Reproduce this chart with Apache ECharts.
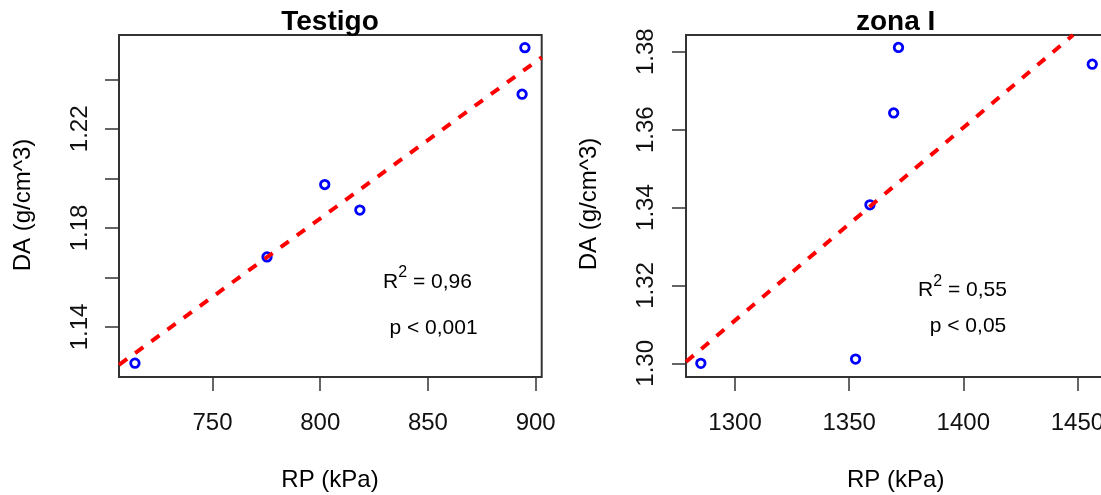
<!DOCTYPE html>
<html><head><meta charset="utf-8">
<script src="https://cdn.jsdelivr.net/npm/echarts@6/dist/echarts.min.js"></script>
<style>html,body{margin:0;padding:0;background:#fff}#c{width:1101px;height:495px}</style>
</head><body><div id="c"></div>
<script>
// ---- data ----
const testigoRP = [714.0, 775.3, 802.1, 818.4, 893.7, 895.0];
const testigoDA = [1.1254, 1.1683, 1.1975, 1.1872, 1.2340, 1.2528];
const zonaRP = [1285.0, 1352.8, 1359.1, 1369.5, 1371.6, 1456.5];
const zonaDA = [1.3000, 1.3011, 1.3407, 1.3643, 1.3811, 1.3768];
// fitted regression lines (endpoints read at the plot box edges)
const testigoFitRP = [706.6, 902.8];
const testigoFitDA = [1.1247, 1.2489];
const zonaFitRP = [1278.5, 1448.1];
const zonaFitDA = [1.3004, 1.3843];
// ticks / labels
const testigoXTicks = [750, 800, 850, 900];
const testigoYTicks = [1.14, 1.16, 1.18, 1.20, 1.22, 1.24];
const testigoYLabels = [1.14, 1.18, 1.22];
const zonaXTicks = [1300, 1350, 1400, 1450];
const zonaYTicks = [1.30, 1.32, 1.34, 1.36, 1.38];
const zonaYLabels = [1.30, 1.32, 1.34, 1.36, 1.38];
const titles = ['Testigo', 'zona I'];
const statsR2 = ['0,96', '0,55'];
const statsP = ['p < 0,001', 'p < 0,05'];
const xName = 'RP (kPa)';
const yName = 'DA (g/cm^3)';

const FONT = '"Liberation Sans", Arial, sans-serif';
const TXT = '#111';

function zip(a, b) { return a.map((v, i) => [v, b[i]]); }

function xAxis(idx, min, max, ticks) {
  return {
    type: 'value', gridIndex: idx, min: min, max: max,
    axisLine: { show: false },
    splitLine: { show: false },
    axisTick: { show: true, length: 14, customValues: ticks, lineStyle: { color: '#333', width: 1.5 } },
    axisLabel: { show: true, customValues: ticks, margin: 34, color: TXT, fontSize: 24, fontFamily: FONT,
      hideOverlap: false, formatter: v => String(v) }
  };
}
function yAxis(idx, min, max, ticks, labels, margin) {
  return {
    type: 'value', gridIndex: idx, min: min, max: max,
    axisLine: { show: false },
    splitLine: { show: false },
    axisTick: { show: true, length: 14, customValues: ticks, lineStyle: { color: '#333', width: 1.5 } },
    axisLabel: { show: true, customValues: labels, rotate: 90, margin: margin, color: TXT, fontSize: 24, fontFamily: FONT,
      formatter: v => Number(v).toFixed(2) }
  };
}
function scatter(idx, xs, ys) {
  return {
    type: 'scatter', xAxisIndex: idx, yAxisIndex: idx, data: zip(xs, ys),
    symbol: 'circle', symbolSize: 8.5, z: 2,
    itemStyle: { color: '#ffffff', borderColor: '#0000ff', borderWidth: 2.8, opacity: 1 },
    emphasis: { disabled: true }
  };
}
function fit(idx, xs, ys) {
  return {
    type: 'line', xAxisIndex: idx, yAxisIndex: idx, data: zip(xs, ys),
    showSymbol: false, symbol: 'none', clip: true, z: 3,
    lineStyle: { color: '#ff0000', width: 4, type: [10, 10], cap: 'butt' },
    emphasis: { disabled: true }
  };
}
function text(x, y, t, size, weight, rot) {
  return {
    type: 'text', x: x, y: y, rotation: rot || 0, silent: true,
    style: { text: t, fill: '#000', font: (weight || 'normal') + ' ' + size + 'px ' + FONT,
      textAlign: 'center', textVerticalAlign: 'middle' }
  };
}
function r2text(x, y, val) {
  return {
    type: 'text', x: x, y: y, silent: true,
    style: {
      text: '{r|R}{s|2}{r| = ' + val + '}',
      textAlign: 'center', textVerticalAlign: 'middle',
      rich: {
        r: { fontSize: 21, fontFamily: FONT, fill: '#000', color: '#000', lineHeight: 34, verticalAlign: 'middle' },
        s: { fontSize: 16, fontFamily: FONT, fill: '#000', color: '#000', lineHeight: 16, verticalAlign: 'top' }
      }
    }
  };
}

const chart = echarts.init(document.getElementById('c'), null, { renderer: 'canvas' });
const gridBase = { top: 35, height: 342, show: true, borderColor: '#333', borderWidth: 2,
  backgroundColor: 'transparent', containLabel: false, outerBoundsMode: 'none' };
chart.setOption({
  animation: false,
  backgroundColor: '#fff',
  grid: [
    Object.assign({ left: 119, width: 422.7 }, gridBase),
    Object.assign({ left: 686, width: 422 }, gridBase)
  ],
  xAxis: [
    xAxis(0, 706.6, 902.8, testigoXTicks),
    xAxis(1, 1278.5, 1463.4, zonaXTicks)
  ],
  yAxis: [
    yAxis(0, 1.1198, 1.2579, testigoYTicks, testigoYLabels, 27),
    yAxis(1, 1.2965, 1.3843, zonaYTicks, zonaYLabels, 27.5)
  ],
  series: [
    scatter(0, testigoRP, testigoDA),
    fit(0, testigoFitRP, testigoFitDA),
    scatter(1, zonaRP, zonaDA),
    fit(1, zonaFitRP, zonaFitDA)
  ],
  graphic: [
    text(330, 22.6, titles[0], 28, 'bold'),
    text(895.6, 22.6, titles[1], 28, 'bold'),
    text(330, 480, xName, 24),
    text(895.7, 480, xName, 24),
    text(23, 205, yName, 24, 'normal', Math.PI / 2),
    text(589.5, 204, yName, 24, 'normal', Math.PI / 2),
    r2text(427.5, 282, statsR2[0]),
    text(433.5, 328, statsP[0], 21),
    r2text(962.5, 290.5, statsR2[1]),
    text(968, 326, statsP[1], 21)
  ]
});
</script>
</body></html>
